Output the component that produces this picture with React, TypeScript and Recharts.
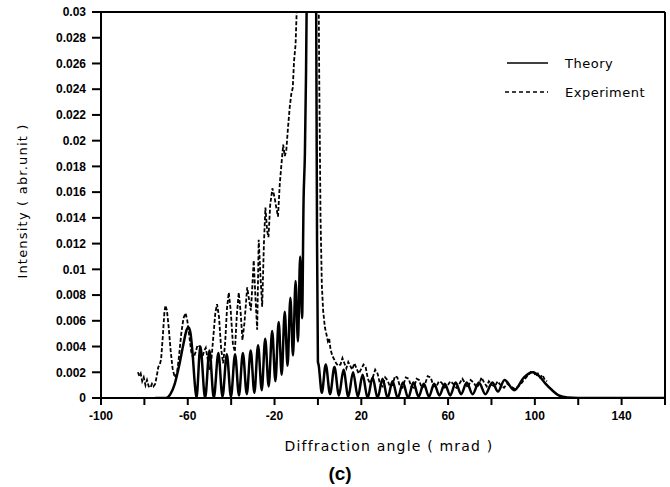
import React from 'react';
import { LineChart, Line, XAxis, YAxis, ReferenceLine } from 'recharts';

const xTicks = [-100, -80, -60, -40, -20, 0, 20, 40, 60, 80, 100, 120, 140, 160];
const xLabeled = [-100, -60, -20, 20, 60, 100, 140];
const yTicks = [0, 0.002, 0.004, 0.006, 0.008, 0.01, 0.012, 0.014, 0.016, 0.018, 0.02, 0.022, 0.024, 0.026, 0.028, 0.03];

const theoryX = [
  -75, -70, -68, -66, -64, -62, -60.5, -59.7, -58.8, -57.8, -56.8, -56,
  -54.2, -52, -50, -48, -45.9, -44, -42, -40.1, -38.2, -36.4, -34.6, -32.8, -31, -29.3,
  -27.6, -25.9, -24.3, -22.7, -21.1, -19.6, -18.1, -16.7, -15.3, -14, -12.7, -11.5, -10.3,
  -9.2, -8.2, -7.3, -6.6, -6, -5.5, -5, -4.5, -1.5, -0.8, -0.4,
  0, 0.3, 1.8, 3.6, 5.6, 7.6, 9.7, 11.8, 14, 16.2, 18.4, 20.6, 22.9, 25.2, 27.5, 29.8, 32.1,
  34.4, 36.8, 39.2, 41.6, 44, 46.4, 48.8, 51.2, 53.6, 56, 58.5, 61, 63.5, 66, 68.6, 71.3,
  74.2, 77.2, 80.4, 83, 86, 90.5, 95, 99, 102, 105, 108, 111, 115, 120, 160,
];
const theoryY = [
  0, 0, 0.0003, 0.0011, 0.0025, 0.0042, 0.0053, 0.0055, 0.0051, 0.0035, 0.0012, 0,
  0.004, 0, 0.0037, 0, 0.0035, 0.0001, 0.0034, 0.0001, 0.0034, 0.0002, 0.0035, 0.0003, 0.0037, 0.0004,
  0.0041, 0.0006, 0.0046, 0.0009, 0.0052, 0.0013, 0.0059, 0.0018, 0.0067, 0.0025, 0.0078, 0.0033, 0.0091,
  0.0044, 0.011, 0.0062, 0.0155, 0.019, 0.025, 0.034, 0.05, 0.05, 0.03, 0.012,
  0.0028, 0.0026, 0.0004, 0.0026, 0.0003, 0.0024, 0.0002, 0.0022, 0.0001, 0.002, 0.0001, 0.0018, 0, 0.0016, 0, 0.0015, 0,
  0.0013, 0, 0.0012, 0, 0.0012, 0.0001, 0.0011, 0.0001, 0.0011, 0.0002, 0.0011, 0.0002, 0.0012, 0.0003, 0.0012, 0.0003,
  0.0012, 0.0003, 0.0012, 0.0005, 0.0014, 0.0006, 0.0016, 0.002, 0.0017, 0.0011, 0.0006, 0.0002, 0.00003, 0, 0,
];

const expX = [
  -83, -82.3, -81.7, -81, -80.3, -79.5, -78.8, -78, -77.2, -76.5, -75.8, -75, -74.3, -73.6, -72.9, -72.3,
  -71.5, -70.8, -70.3, -69.6, -68.8, -67.9, -67, -66, -65, -64, -63, -62, -61, -60.2, -59.3, -58.4,
  -57.5, -56.5, -55.5, -54.5, -53.5, -52.6, -51.7, -50.8, -50, -49.2, -48.3, -47.3, -46.5, -45.6, -44.6,
  -43.7, -42.8, -41.9, -41.1, -40.2, -39.2, -38.3, -37.4, -36.5, -35.6, -34.8, -33.9, -32.6, -31.7, -30.9,
  -30.2, -29.6, -28.8, -28, -27.3, -26.5, -25.7, -24.9, -24.2, -23.4, -22.8, -22, -21, -20, -19.2, -18.4,
  -17.6, -16.8, -16, -15.3, -14.6, -13.8, -13, -12.3, -11.6, -11, -10.3, -9.7, -9, -8, -1, 0, 0.6, 1.2,
  1.8, 2.4, 3.2, 4, 4.6, 5.2, 5.8, 6.6, 7.5, 8.4, 9.4, 10.4, 11.3, 12.2, 13.1, 14, 14.9, 15.8, 16.8, 17.8,
  18.8, 19.8, 21, 22, 23, 24.1, 25.3, 26.4, 27.5, 28.6, 29.8, 31, 32, 33.2, 34.4, 35.5, 36.6, 37.8, 39,
  40.5, 41.8, 43, 44.2, 45.5, 46.6, 47.8, 49, 50.6, 52, 53.3, 54.6, 55.8, 57, 58.3, 59.6, 61, 62.4, 63.8,
  65.2, 66.6, 68, 69.2, 70.4, 71.8, 73.2, 74.4, 75.4, 76.6, 77.8, 78.8, 80.2, 81.6, 82.8, 84.2, 85.8, 87.2,
  89, 90.8, 92.4, 94, 95.5, 97, 98.5, 99.5, 100.5, 101.4, 102.4, 103.5, 104.6, 105.6,
];
const expY = [
  0.002, 0.0017, 0.0019, 0.0013, 0.0016, 0.001, 0.0014, 0.0009, 0.0008, 0.0011, 0.0009, 0.0011, 0.0017, 0.0024, 0.0026, 0.003,
  0.0048, 0.0066, 0.0072, 0.0068, 0.0055, 0.0037, 0.0023, 0.0016, 0.0019, 0.0033, 0.005, 0.0062, 0.0066, 0.006, 0.0048, 0.0036,
  0.0031, 0.0035, 0.0041, 0.004, 0.003, 0.0036, 0.0039, 0.003, 0.0022, 0.0028, 0.0046, 0.0066, 0.0073, 0.0063, 0.0038,
  0.0027, 0.0042, 0.007, 0.0082, 0.0068, 0.0042, 0.0036, 0.0064, 0.0082, 0.0066, 0.0045, 0.0058, 0.0086, 0.0076, 0.0068,
  0.0088, 0.0107, 0.0078, 0.0053, 0.0123, 0.0095, 0.0071, 0.012, 0.0148, 0.013, 0.0125, 0.015, 0.0163, 0.0156, 0.0148, 0.0141,
  0.0166, 0.0182, 0.0197, 0.0188, 0.0192, 0.021, 0.0226, 0.0236, 0.0241, 0.0262, 0.0275, 0.0305, 0.036, 0.05, 0.05, 0.04, 0.025, 0.014,
  0.0088, 0.0068, 0.0055, 0.0049, 0.0044, 0.0046, 0.0038, 0.0033, 0.003, 0.0027, 0.0025, 0.0026, 0.0031, 0.0027, 0.0023, 0.0028, 0.0025, 0.0022, 0.0027, 0.0023,
  0.0019, 0.0022, 0.0026, 0.0024, 0.0015, 0.0011, 0.0016, 0.0022, 0.0019, 0.0011, 0.0009, 0.0016, 0.0014, 0.0009, 0.001, 0.0017, 0.0016, 0.0009, 0.0008,
  0.0016, 0.0015, 0.0009, 0.0008, 0.0015, 0.0014, 0.0008, 0.0009, 0.0017, 0.0016, 0.0009, 0.0009, 0.0013, 0.0012, 0.0008, 0.0009, 0.0013, 0.0011, 0.0008,
  0.0011, 0.0015, 0.0011, 0.0008, 0.0014, 0.0012, 0.0008, 0.0011, 0.0016, 0.0012, 0.0009, 0.0013, 0.001, 0.0009, 0.0013, 0.001, 0.0008, 0.0011,
  0.0009, 0.0007, 0.0009, 0.0012, 0.0015, 0.0018, 0.0021, 0.002, 0.0017, 0.0019, 0.0016, 0.0018, 0.0014, 0.0013,
];

const theory = theoryX.map((x, i) => ({ x, y: theoryY[i] }));
const experiment = expX.map((x, i) => ({ x, y: expY[i] }));

const tickFont = { fontFamily: '"Liberation Sans", Arial, sans-serif', fontWeight: 'bold' as const, fontSize: 12, fill: '#000' };
const labelFont = { fontFamily: '"DejaVu Sans", "Liberation Sans", sans-serif', fontSize: 13, color: '#000', letterSpacing: 1.2 };

export default function App() {
  return (
    <div style={{ position: 'absolute', left: 0, top: 0, width: 670, height: 487, background: '#fff' }}>
      <LineChart width={670} height={487} margin={{ top: 12, right: 5, left: 0, bottom: 59 }}>
        <XAxis
          dataKey="x"
          type="number"
          domain={[-100, 160]}
          ticks={xTicks}
          allowDataOverflow
          height={30}
          stroke="#000"
          strokeWidth={2}
          tickSize={7}
          tickMargin={6}
          tick={tickFont}
          tickFormatter={(v: number) => (xLabeled.includes(v) ? String(v) : '')}
        />
        <YAxis
          type="number"
          domain={[0, 0.03]}
          ticks={yTicks}
          allowDataOverflow
          width={101}
          stroke="#000"
          strokeWidth={2}
          tickSize={9}
          tickMargin={6}
          tick={tickFont}
          interval={0}
        />
        <ReferenceLine y={0.03} stroke="#000" strokeWidth={2} />
        <ReferenceLine x={160} stroke="#000" strokeWidth={2} />
        <Line
          data={experiment}
          dataKey="y"
          type="linear"
          stroke="#000"
          strokeWidth={1.8}
          strokeDasharray="4 2"
          dot={false}
          isAnimationActive={false}
        />
        <Line
          data={theory}
          dataKey="y"
          type="monotone"
          stroke="#000"
          strokeWidth={2.5}
          dot={false}
          isAnimationActive={false}
        />
      </LineChart>
      <div style={{ ...labelFont, position: 'absolute', left: 22, top: 201, transform: 'translate(-50%, -50%) rotate(-90deg)', whiteSpace: 'nowrap' }}>
        Intensity ( abr.unit )
      </div>
      <div style={{ ...labelFont, fontSize: 14, position: 'absolute', left: 389, top: 446, transform: 'translate(-50%, -50%)', whiteSpace: 'nowrap' }}>
        Diffraction angle ( mrad )
      </div>
      <div style={{ fontFamily: '"Liberation Sans", Arial, sans-serif', fontWeight: 'bold', fontSize: 19, position: 'absolute', left: 340, top: 474, transform: 'translate(-50%, -50%)', whiteSpace: 'nowrap' }}>
        (c)
      </div>
      <svg style={{ position: 'absolute', left: 0, top: 0 }} width={670} height={487} pointerEvents="none">
        <line x1={507} x2={548} y1={63} y2={63} stroke="#000" strokeWidth={1.6} />
        <line x1={505} x2={548} y1={92} y2={92} stroke="#000" strokeWidth={1.6} strokeDasharray="4 3" />
      </svg>
      <div style={{ ...labelFont, letterSpacing: 0.5, position: 'absolute', left: 565, top: 63, transform: 'translateY(-50%)', whiteSpace: 'nowrap' }}>
        Theory
      </div>
      <div style={{ ...labelFont, letterSpacing: 0.5, position: 'absolute', left: 565, top: 92, transform: 'translateY(-50%)', whiteSpace: 'nowrap' }}>
        Experiment
      </div>
    </div>
  );
}
